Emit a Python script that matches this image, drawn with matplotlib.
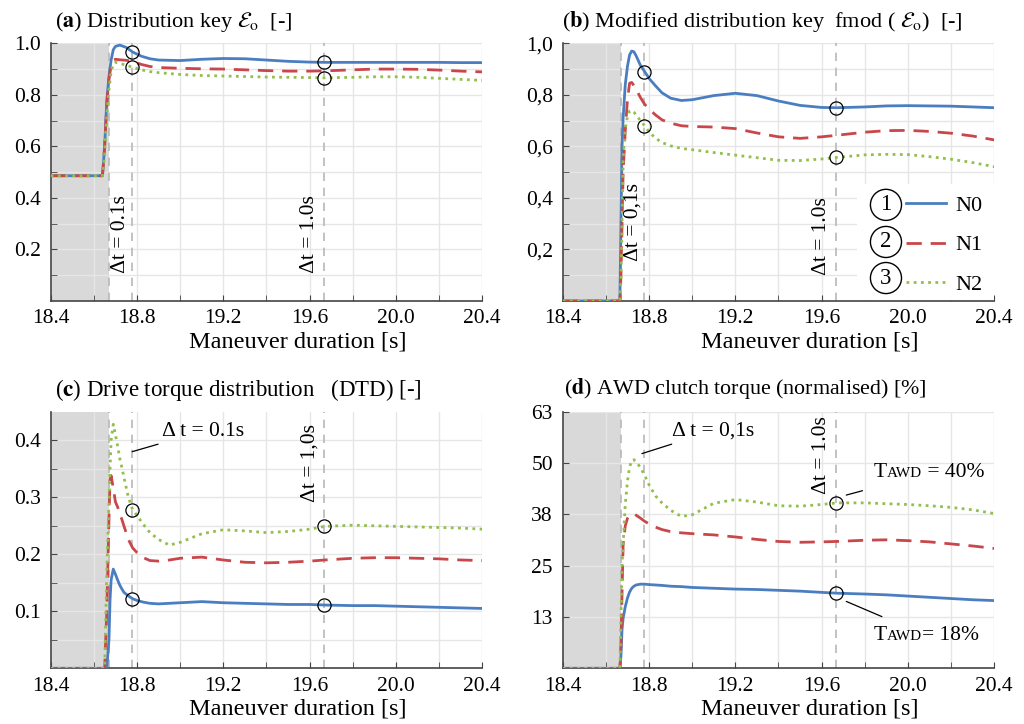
import matplotlib
matplotlib.use('Agg')
import matplotlib.pyplot as plt
from matplotlib.patches import Rectangle
from matplotlib.offsetbox import TextArea, HPacker, AnnotationBbox

plt.rcParams['font.family'] = ['Liberation Serif', 'DejaVu Serif']
plt.rcParams['mathtext.fontset'] = 'stix'
plt.rcParams['font.size'] = 14

# ---- data ----
# (a) distribution key
t_a = [18.40, 18.64, 18.65, 18.66, 18.67, 18.68, 18.69, 18.70, 18.72, 18.75, 18.78,
       18.82, 18.86, 18.90, 19.00, 19.10, 19.20, 19.30, 19.40, 19.50, 19.60, 19.67,
       19.80, 19.90, 20.00, 20.10, 20.20, 20.30, 20.40]
a_n0 = [0.486, 0.486, 0.60, 0.78, 0.87, 0.935, 0.975, 0.988, 0.993, 0.984, 0.966,
        0.950, 0.940, 0.935, 0.933, 0.938, 0.941, 0.940, 0.935, 0.930, 0.927, 0.926,
        0.926, 0.926, 0.926, 0.926, 0.926, 0.925, 0.925]
a_n1 = [0.486, 0.486, 0.60, 0.76, 0.86, 0.915, 0.935, 0.938, 0.936, 0.934, 0.930,
        0.918, 0.910, 0.906, 0.903, 0.901, 0.900, 0.897, 0.894, 0.892, 0.892, 0.893,
        0.897, 0.900, 0.900, 0.899, 0.896, 0.892, 0.889]
a_n2 = [0.486, 0.486, 0.57, 0.72, 0.82, 0.890, 0.920, 0.926, 0.922, 0.915, 0.907,
        0.897, 0.890, 0.886, 0.879, 0.875, 0.873, 0.871, 0.869, 0.868, 0.867, 0.866,
        0.868, 0.870, 0.870, 0.868, 0.864, 0.860, 0.856]

# (b) modified distribution key
t_b = [18.40, 18.665, 18.67, 18.675, 18.68, 18.69, 18.70, 18.71, 18.72, 18.73, 18.74,
       18.76, 18.78, 18.80, 18.83, 18.86, 18.90, 18.95, 19.00, 19.10, 19.20, 19.30,
       19.40, 19.50, 19.60, 19.67, 19.80, 19.90, 20.00, 20.10, 20.20, 20.30, 20.40]
b_n0 = [0, 0, 0.30, 0.60, 0.71, 0.84, 0.91, 0.955, 0.970, 0.967, 0.952,
        0.915, 0.890, 0.864, 0.835, 0.808, 0.787, 0.778, 0.781, 0.797, 0.806, 0.797,
        0.776, 0.759, 0.751, 0.750, 0.753, 0.757, 0.758, 0.757, 0.756, 0.753, 0.750]
b_n1 = [0, 0, 0.10, 0.30, 0.50, 0.66, 0.78, 0.845, 0.848, 0.836, 0.822,
        0.790, 0.763, 0.745, 0.722, 0.703, 0.690, 0.680, 0.677, 0.675, 0.669, 0.652,
        0.637, 0.631, 0.637, 0.643, 0.655, 0.661, 0.662, 0.658, 0.651, 0.640, 0.625]
b_n2 = [0, 0, 0.08, 0.30, 0.55, 0.67, 0.715, 0.737, 0.740, 0.733, 0.722,
        0.700, 0.680, 0.656, 0.632, 0.615, 0.602, 0.592, 0.587, 0.576, 0.566, 0.556,
        0.546, 0.545, 0.551, 0.557, 0.567, 0.569, 0.568, 0.560, 0.550, 0.537, 0.521]

# (c) drive torque distribution
t_c = [18.40, 18.65, 18.66, 18.67, 18.675, 18.68, 18.69, 18.70, 18.71, 18.72, 18.73,
       18.74, 18.76, 18.78, 18.80, 18.83, 18.86, 18.90, 18.95, 19.00, 19.10, 19.20,
       19.30, 19.40, 19.50, 19.60, 19.67, 19.80, 19.90, 20.00, 20.10, 20.20, 20.30, 20.40]
c_n0 = [0, 0, 0, 0.05, 0.12, 0.155, 0.174, 0.165, 0.155, 0.146, 0.139,
        0.133, 0.127, 0.122, 0.119, 0.116, 0.114, 0.113, 0.114, 0.115, 0.117, 0.115,
        0.114, 0.113, 0.112, 0.112, 0.111, 0.110, 0.110, 0.109, 0.108, 0.107, 0.106, 0.105]
c_n1 = [0, 0, 0.10, 0.26, 0.33, 0.338, 0.316, 0.292, 0.283, 0.272, 0.261,
        0.249, 0.226, 0.211, 0.203, 0.194, 0.189, 0.188, 0.190, 0.193, 0.195, 0.190,
        0.186, 0.185, 0.186, 0.188, 0.190, 0.193, 0.194, 0.194, 0.193, 0.192, 0.190, 0.189]
c_n2 = [0, 0, 0.17, 0.29, 0.35, 0.40, 0.428, 0.41, 0.39, 0.368, 0.352,
        0.334, 0.300, 0.278, 0.268, 0.252, 0.238, 0.226, 0.216, 0.221, 0.236, 0.243,
        0.241, 0.238, 0.240, 0.244, 0.249, 0.251, 0.250, 0.249, 0.248, 0.247, 0.246, 0.244]

# (d) AWD clutch torque [%]
t_d = t_b
d_n0 = [0, 0, 3, 9.5, 12.2, 15.0, 17.1, 18.6, 19.5, 20.0, 20.3,
        20.5, 20.5, 20.4, 20.3, 20.2, 20.0, 19.9, 19.7, 19.5, 19.3, 19.2,
        19.0, 18.8, 18.5, 18.3, 18.1, 17.9, 17.6, 17.3, 17.0, 16.7, 16.5]
d_n1 = [0, 0, 6, 18, 30, 34.7, 36.5, 37.3, 37.6, 37.6, 37.3,
        36.6, 35.8, 35.2, 34.4, 33.8, 33.3, 33.0, 32.8, 32.5, 32.0, 31.4,
        30.9, 30.7, 30.8, 30.9, 31.2, 31.3, 31.1, 30.8, 30.3, 29.8, 29.2]
d_n2 = [0, 0, 12, 25, 30, 40, 45.5, 49, 50.7, 50.8, 50.4,
        48.9, 47.0, 44.7, 42.0, 40.3, 38.5, 37.0, 37.4, 40.2, 41.1, 40.5,
        39.6, 39.5, 39.9, 40.3, 40.3, 40.1, 39.9, 39.6, 39.2, 38.6, 37.7]

series_names = ['N0', 'N1', 'N2']
colors = ['#4A7EC0', '#C9474A', '#93BF4C']
styles = ['-', (0, (5.5, 3.2)), (0, (1, 1.6))]

t_shade = 18.668
t_mark1 = 18.775
t_mark2 = 19.668

fig = plt.figure(figsize=(10.24, 7.24), dpi=100)
ax_a = fig.add_axes([0.0495, 0.5843, 0.4215, 0.3559])
ax_b = fig.add_axes([0.5495, 0.5843, 0.4215, 0.3559])
ax_c = fig.add_axes([0.0495, 0.0769, 0.4215, 0.3544])
ax_d = fig.add_axes([0.5495, 0.0769, 0.4215, 0.3544])


def base(ax, t, ys, ylim, yticks, ylabels, yminor, marks):
    ax.axvspan(18.4, t_shade, color='#d9d9d9', lw=0, zorder=0.2)
    ax.set_axisbelow(True)
    ax.set_xlim(18.4, 20.4)
    ax.set_ylim(*ylim)
    ax.set_xticks([18.4, 18.8, 19.2, 19.6, 20.0, 20.4])
    ax.set_xticklabels(['18.4', '18.8', '19.2', '19.6', '20.0', '20.4'])
    ax.set_xticks([18.6, 19.0, 19.4, 19.8, 20.2], minor=True)
    ax.set_yticks(yticks)
    ax.set_yticklabels(ylabels)
    ax.set_yticks(yminor, minor=True)
    ax.grid(which='both', color='#e6e6e6', lw=1.0)
    for s in ['top', 'right']:
        ax.spines[s].set_visible(False)
    for s in ['left', 'bottom']:
        ax.spines[s].set_color('#444444')
        ax.spines[s].set_linewidth(1.2)
    ax.tick_params(which='both', direction='in', color='#444444', labelsize=15.5)
    ax.tick_params(which='major', length=4)
    ax.tick_params(which='minor', length=4)
    ax.tick_params(axis='x', pad=6)
    ax.tick_params(axis='y', pad=7)
    for xv in [t_shade, t_mark1, t_mark2]:
        ax.axvline(xv, color='#b8b8b8', ls=(0, (5, 4)), lw=1.2, zorder=1.5)
    handles = []
    for y, c, s, n in zip(ys, colors, styles, series_names):
        h, = ax.plot(t, y, color=c, ls=s, lw=2.0, label=n, zorder=3)
        handles.append(h)
    for tm, idx in marks:
        i = t.index(tm)
        ax.plot([t_mark1 if tm < 19 else t_mark2], [ys[idx][i]], 'o', ms=9.5, mfc='none',
                mec='black', mew=0.9, zorder=5)
    ax.set_xlabel('Maneuver duration [s]', fontsize=17.5, x=0.572, labelpad=2)
    return handles


base(ax_a, t_a, [a_n0, a_n1, a_n2], (0, 1.0), [0.2, 0.4, 0.6, 0.8, 1.0],
     ['0.2', '0.4', '0.6', '0.8', '1.0'], [0.1, 0.3, 0.5, 0.7, 0.9],
     [(18.78, 0), (18.78, 2), (19.67, 0), (19.67, 2)])
hb = base(ax_b, t_b, [b_n0, b_n1, b_n2], (0, 1.0), [0.2, 0.4, 0.6, 0.8, 1.0],
          ['0,2', '0,4', '0,6', '0,8', '1,0'], [0.1, 0.3, 0.5, 0.7, 0.9],
          [(18.78, 0), (18.78, 2), (19.67, 0), (19.67, 2)])
base(ax_c, t_c, [c_n0, c_n1, c_n2], (0, 0.45), [0.1, 0.2, 0.3, 0.4],
     ['0.1', '0.2', '0.3', '0.4'], [0.05, 0.15, 0.25, 0.35],
     [(18.78, 0), (18.78, 2), (19.67, 0), (19.67, 2)])
base(ax_d, t_d, [d_n0, d_n1, d_n2], (0, 62.5), [12.5, 25, 37.5, 50, 62.5],
     ['13', '25', '38', '50', '63'], [],
     [(19.67, 0), (19.67, 2)])

# titles
fig.text(0.054, 0.970, r'($\mathbf{a}$) Distribution key $\mathcal{E}_{\mathrm{o}}$  [-]',
         fontsize=16, va='center')
fig.text(0.549, 0.970, r'($\mathbf{b}$) Modified distribution key  fmod ( $\mathcal{E}_{\mathrm{o}}$)  [-]',
         fontsize=16, va='center')
fig.text(0.054, 0.4613, r'($\mathbf{c}$) Drive torque distribution   (DTD) [-]',
         fontsize=16.5, va='center')
fig.text(0.551, 0.4640, r'($\mathbf{d}$) AWD clutch torque (normalised) [%]',
         fontsize=15.8, va='center')

# delta-t annotations
rot = dict(rotation=90, ha='center', va='center', fontsize=15.5)
ax_a.text(18.722, 0.26, 'Δt = 0.1s', **rot)
ax_a.text(19.60, 0.26, 'Δt = 1.0s', **rot)
ax_b.text(18.724, 0.305, 'Δt = 0,1s', **rot)
ax_b.text(19.60, 0.252, 'Δt = 1.0s', **rot)
ax_c.text(19.60, 0.360, 'Δt = 1,0s', **rot)
ax_d.text(19.60, 51.9, 'Δt = 1.0s', **rot)

ax_c.annotate('Δ t = 0.1s', xy=(18.778, 0.380), xytext=(18.916, 0.416),
              fontsize=15.5, va='center', ha='left',
              arrowprops=dict(arrowstyle='-', lw=0.9, color='black', shrinkA=2, shrinkB=0))
ax_d.annotate('Δ t = 0,1s', xy=(18.767, 52.3), xytext=(18.906, 57.8),
              fontsize=15.5, va='center', ha='left',
              arrowprops=dict(arrowstyle='-', lw=0.9, color='black', shrinkA=2, shrinkB=0))


def tawd(ax, rest, xy, xytext):
    box = HPacker(children=[TextArea('T', textprops=dict(fontsize=15.5)),
                            TextArea('AWD', textprops=dict(fontsize=11)),
                            TextArea(rest, textprops=dict(fontsize=15.5))],
                  align='baseline', pad=0, sep=0)
    ab = AnnotationBbox(box, xy, xybox=xytext, box_alignment=(0, 0.5), frameon=False,
                        arrowprops=dict(arrowstyle='-', lw=0.9, color='black',
                                        shrinkA=2, shrinkB=0))
    ax.add_artist(ab)


tawd(ax_d, ' = 40%', (19.714, 42.2), (19.84, 47.6))
tawd(ax_d, '= 18%', (19.714, 16.3), (19.84, 8.0))

# legend in (b)
ax_b.add_patch(Rectangle((0.682, 0.0), 0.318, 0.454, transform=ax_b.transAxes,
                         facecolor='white', edgecolor='none', zorder=1))
ax_b.legend(handles=hb, loc='upper left', bbox_to_anchor=(0.795, 0.41), frameon=False,
            borderpad=0, borderaxespad=0, handlelength=1.8, handletextpad=0.45,
            labelspacing=0.85, fontsize=16)
for k, yf in enumerate([0.373, 0.229, 0.089]):
    ax_b.text(0.749, yf, str(k + 1), transform=ax_b.transAxes, ha='center', va='center',
              fontsize=16.5, zorder=6,
              bbox=dict(boxstyle='circle,pad=0.22', fc='white', ec='black', lw=1.0))

fig.savefig('out.png', dpi=100)
